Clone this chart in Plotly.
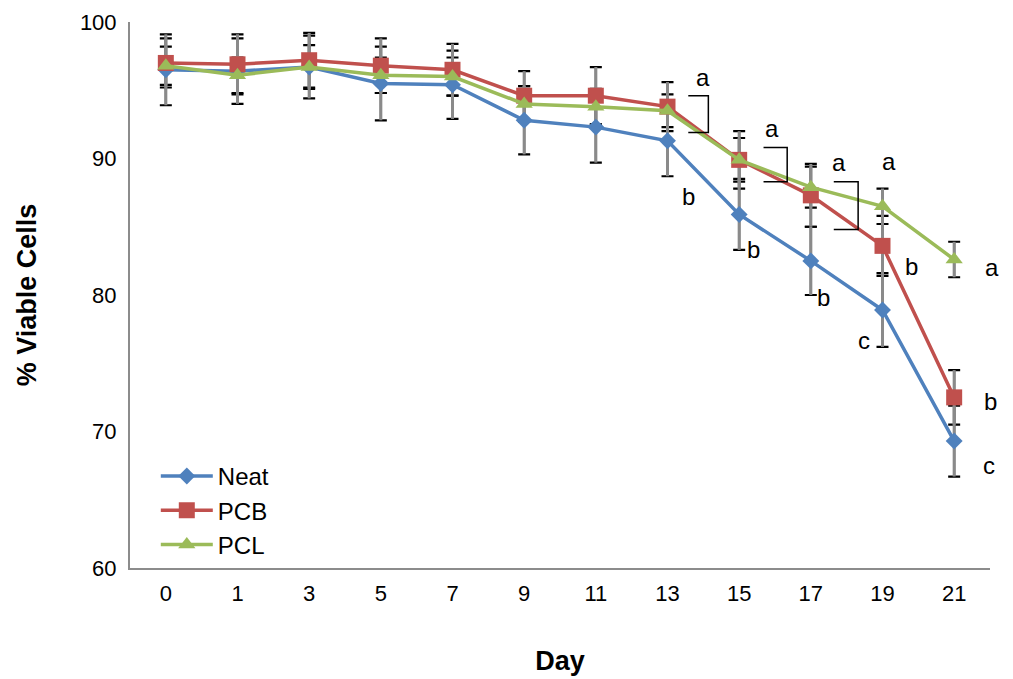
import plotly.graph_objects as go

days = ["0", "1", "3", "5", "7", "9", "11", "13", "15", "17", "19", "21"]
neat = [96.5, 96.4, 96.7, 95.5, 95.4, 92.8, 92.3, 91.3, 85.9, 82.5, 78.9, 69.3]
pcb = [97.0, 96.9, 97.2, 96.8, 96.5, 94.6, 94.6, 93.8, 89.9, 87.3, 83.6, 72.5]
pcl = [96.8, 96.1, 96.7, 96.1, 96.0, 94.0, 93.8, 93.5, 89.9, 87.9, 86.5, 82.6]
neat_sd = [2.6, 2.4, 2.3, 2.7, 2.5, 2.5, 2.6, 2.6, 2.6, 2.5, 2.7, 2.6]
pcb_sd = [1.8, 2.2, 2.0, 2.0, 1.9, 1.8, 2.1, 1.8, 2.1, 2.3, 2.2, 2.0]
pcl_sd = [1.4, 1.3, 1.6, 1.3, 1.4, 1.3, 1.3, 1.2, 1.6, 1.5, 1.3, 1.3]

series_names = ["Neat", "PCB", "PCL"]
series_colors = ["#4F81BD", "#C0504D", "#9BBB59"]
series_symbols = ["diamond", "square", "triangle-up"]
series_sizes = [13, 16, 15]

# significance letters: (category index position, value, letter)
letter_x = [7.5, 8.58, 9.52, 10.22, 11.65, 7.29, 8.32, 9.30, 10.53, 11.62, 9.86, 11.60]
letter_y = [95.9, 92.2, 89.7, 89.8, 82.0, 87.2, 83.3, 79.8, 82.1, 72.2, 76.7, 67.5]
letter_t = ["a", "a", "a", "a", "a", "b", "b", "b", "b", "b", "c", "c"]

# brackets: x_left, x_right, y_top, y_bottom (category index / value units)
br_x0 = [7.29, 8.34, 9.32]
br_x1 = [7.57, 8.67, 9.66]
br_top = [94.6, 90.8, 88.3]
br_bot = [91.9, 88.3, 84.8]

xs = list(range(len(days)))
n_cat = len(days)
fig = go.Figure()

all_vals = [neat, pcb, pcl]
all_sd = [neat_sd, pcb_sd, pcl_sd]

# black caps layer
for vals, sd in zip(all_vals, all_sd):
    fig.add_trace(go.Scatter(
        x=xs, y=vals, mode="markers", marker=dict(opacity=0, size=1),
        error_y=dict(type="data", array=sd, visible=True, color="#000000",
                     thickness=2.2, width=6),
        showlegend=False, hoverinfo="skip"))

# grey stems layer
for vals, sd in zip(all_vals, all_sd):
    fig.add_trace(go.Scatter(
        x=xs, y=vals, mode="markers", marker=dict(opacity=0, size=1),
        error_y=dict(type="data", array=sd, visible=True, color="#8a8a8a",
                     thickness=3, width=0),
        showlegend=False, hoverinfo="skip"))

for name, vals, col, sym, sz in zip(series_names, all_vals, series_colors,
                                    series_symbols, series_sizes):
    fig.add_trace(go.Scatter(
        x=xs, y=vals, mode="lines+markers", name=name,
        line=dict(color=col, width=3.5),
        marker=dict(symbol=sym, size=sz, color=col)))

for x0, x1, yt, yb in zip(br_x0, br_x1, br_top, br_bot):
    fig.add_shape(type="path",
                  path=f"M {x0} {yt} L {x1} {yt} L {x1} {yb} L {x0} {yb}",
                  xref="x", yref="y", line=dict(color="#000000", width=1.5))

for lx, ly, lt in zip(letter_x, letter_y, letter_t):
    fig.add_annotation(x=(lx + 0.5) / n_cat, y=ly, text=lt, showarrow=False,
                       xref="paper", yref="y",
                       font=dict(size=24, color="#000000", family="Liberation Sans"))

fig.update_layout(
    width=1005, height=671,
    margin=dict(l=122, r=23, t=14, b=111),
    paper_bgcolor="white", plot_bgcolor="white",
    font=dict(family="Liberation Sans, Arial, sans-serif", color="#000000"),
    legend=dict(x=0.030, y=0.209, xanchor="left", yanchor="top",
                bgcolor="rgba(0,0,0,0)", font=dict(size=24),
                tracegroupgap=0, itemwidth=52),
    xaxis=dict(range=[-0.5, 11.5], tickmode="array", tickvals=xs, ticktext=days,
               automargin=False,
               showgrid=False, zeroline=False, showline=True, linecolor="#8c8c8c",
               linewidth=2, ticks="", tickfont=dict(size=22), ticklabelstandoff=5,
               title=dict(text="<b>Day</b>", font=dict(size=27), standoff=46)),
    yaxis=dict(range=[60, 100], tickmode="array", tickvals=[60, 70, 80, 90, 100],
               automargin=False,
               showgrid=False, zeroline=False, showline=True, linecolor="#8c8c8c",
               linewidth=2, ticks="", tickfont=dict(size=22), ticklabelstandoff=7,
               title=dict(text="<b>% Viable Cells</b>", font=dict(size=27), standoff=35)),
)

fig.write_html("out.html")
